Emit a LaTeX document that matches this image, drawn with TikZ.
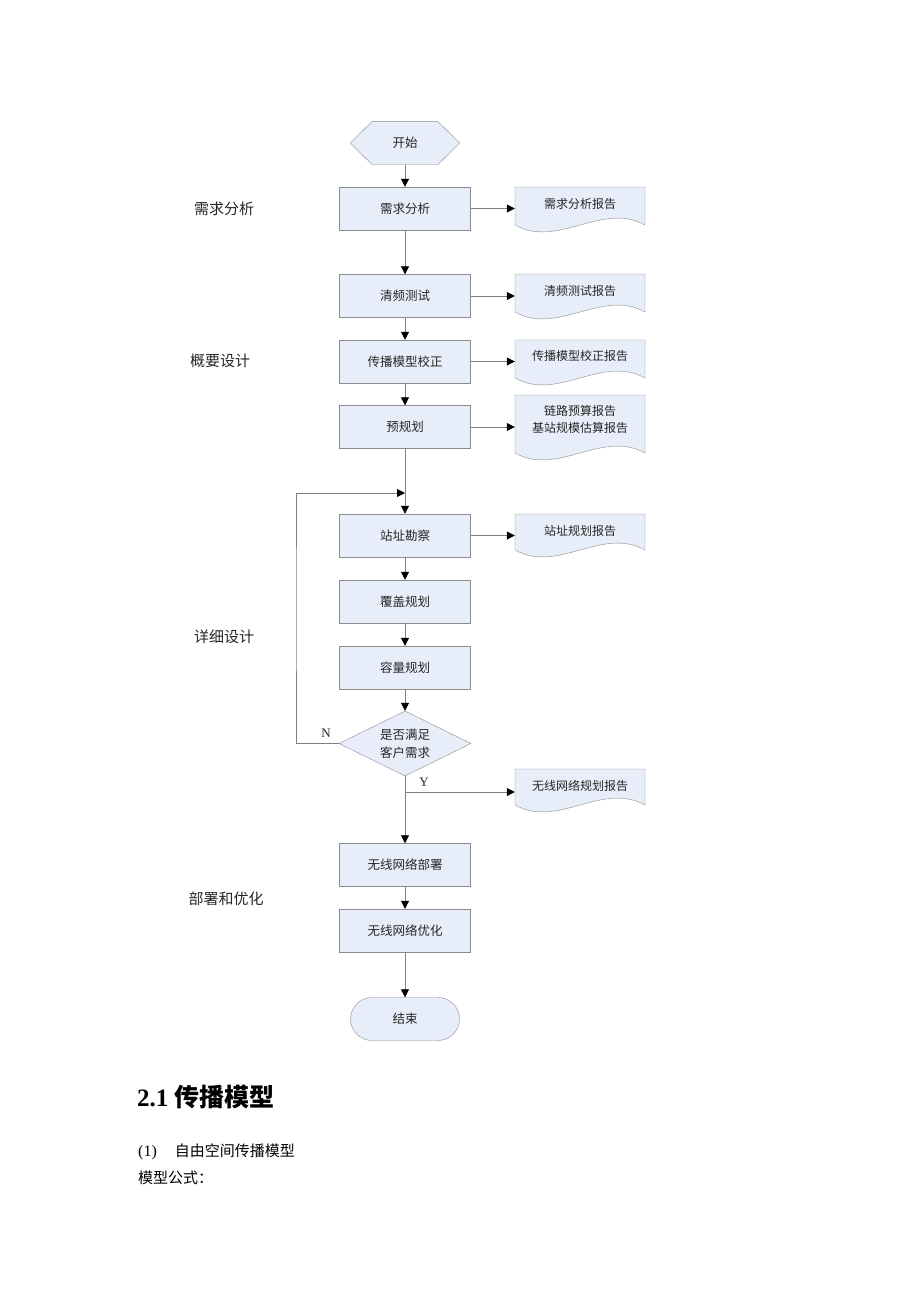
\documentclass[tikz,border=0pt]{standalone}
\usepackage{fontspec}
\setmainfont{Liberation Serif}
\newfontfamily\cjk{Noto Sans CJK SC}
\usetikzlibrary{arrows.meta,shapes.geometric,backgrounds,calc}
\definecolor{boxfill}{HTML}{E8EEF9}
\definecolor{boxline}{HTML}{8C8C8C}
\definecolor{conn}{HTML}{808080}
\newcommand\docnode[5]{%
  \node[doctext] (#1) at (580,#4) {#5};
  \begin{scope}[on background layer]
    \path[docshape] (515,#2) -- (645,#2) -- (645,#3)
      .. controls (602,#3-24) and (558,#3+24) .. (515,#3) -- cycle;
  \end{scope}}
\begin{document}
\begin{tikzpicture}[x=1pt,y=-1pt,
  proc/.style={draw=boxline,fill=boxfill,minimum width=131pt,minimum height=43pt,inner sep=0pt,text=black!85,font=\cjk\fontsize{12.5}{15}\selectfont},
  doctext/.style={font=\cjk\fontsize{12}{17}\selectfont,text=black!85,align=center,inner sep=0pt,minimum width=130pt},
  docshape/.style={draw=boxline,fill=boxfill},
  arr/.style={draw=conn,line width=0.8pt,-{Triangle[length=8pt,width=8pt,color=black]}},
  ln/.style={draw=conn,line width=0.8pt},
  side/.style={font=\cjk\fontsize{15}{18}\selectfont,text=black!85},
  lat/.style={font=\fontsize{13}{15}\selectfont,text=black!85},
]
\begin{scope}[on background layer]
  \fill[white] (0,0) rectangle (920,1302);
\end{scope}
\useasboundingbox (0,0) rectangle (920,1302);

% start hexagon
\node[font=\cjk\fontsize{12.5}{15}\selectfont,text=black!85,minimum width=109pt,minimum height=43pt,inner sep=0pt] (start) at (405,143) {开始};
\begin{scope}[on background layer]
  \path[docshape] (start.west) -- ($(start.north west)+(22,0)$) -- ($(start.north east)+(-22,0)$)
    -- (start.east) -- ($(start.south east)+(-22,0)$) -- ($(start.south west)+(22,0)$) -- cycle;
\end{scope}

% process boxes
\node[proc] (a1) at (405,208.5) {需求分析};
\node[proc] (a2) at (405,296) {清频测试};
\node[proc] (a3) at (405,361.5) {传播模型校正};
\node[proc] (a4) at (405,427) {预规划};
\node[proc] (a5) at (405,535.5) {站址勘察};
\node[proc] (a6) at (405,601.5) {覆盖规划};
\node[proc] (a7) at (405,667.5) {容量规划};
\node[diamond,draw=boxline,fill=boxfill,aspect=2,minimum width=132pt,minimum height=65pt,inner sep=0pt,align=center,text=black!85,font=\cjk\fontsize{12.5}{18}\selectfont] (d) at (405,743.5) {是否满足\\客户需求};
\node[proc] (a8) at (405,865) {无线网络部署};
\node[proc] (a9) at (405,930.5) {无线网络优化};
\node[draw=boxline,fill=boxfill,rounded corners=21.5pt,minimum width=109pt,minimum height=43pt,inner sep=0pt,text=black!85,font=\cjk\fontsize{12.5}{15}\selectfont] (stop) at (405,1019) {结束};

% documents
\docnode{r1}{187}{225}{204}{需求分析报告}
\docnode{r2}{274}{312}{291}{清频测试报告}
\docnode{r3}{340}{378}{356}{传播模型校正报告}
\docnode{r4}{395}{453}{419}{链路预算报告\\基站规模估算报告}
\docnode{r5}{514}{550}{531}{站址规划报告}
\docnode{r6}{769}{805}{786}{无线网络规划报告}

% connectors
\coordinate (m) at (405,493);
\coordinate (lp) at (296,600);
\coordinate (yb) at (405,792);
\draw[arr] (start) -- (a1);
\draw[arr] (a1) -- (a2);
\draw[arr] (a2) -- (a3);
\draw[arr] (a3) -- (a4);
\draw[ln] (a4) -- (m);
\draw[arr] (m) -- (a5);
\draw[arr] (a5) -- (a6);
\draw[arr] (a6) -- (a7);
\draw[arr] (a7) -- (d);
\draw[arr] (d.west) -| (lp) |- (m);
\draw[arr] (d) -- (a8);
\draw[arr] (yb) -- (yb -| r6.west);
\draw[arr] (a8) -- (a9);
\draw[arr] (a9) -- (stop);
\draw[arr] (a1.east) -- (a1.east -| r1.west);
\draw[arr] (a2.east) -- (a2.east -| r2.west);
\draw[arr] (a3.east) -- (a3.east -| r3.west);
\draw[arr] (a4.east) -- (a4.east -| r4.west);
\draw[arr] (a5.east) -- (a5.east -| r5.west);

\node[lat] (nl) at (326,733) {N};
\node[lat] (yl) at (424,782) {Y};

% side labels
\node[side] (s1) at (224,209) {需求分析};
\node[side] (s2) at (220,361) {概要设计};
\node[side] (s3) at (224,637) {详细设计};
\node[side] (s4) at (226,899) {部署和优化};

% text below
\node[anchor=west,inner sep=0pt,font=\bfseries\fontsize{25}{30}\selectfont] (h) at (137,1097) {2.1 {\cjk\bfseries 传播模型}};
\node[anchor=west,inner sep=0pt,font=\fontsize{16}{18}\selectfont] (p1) at (138,1152) {(1)\hspace{18pt}{\cjk\fontsize{15}{18}\selectfont 自由空间传播模型}};
\node[anchor=west,inner sep=0pt,font=\cjk\fontsize{15}{18}\selectfont] (p2) at (138,1178) {模型公式：};
\end{tikzpicture}
\end{document}
